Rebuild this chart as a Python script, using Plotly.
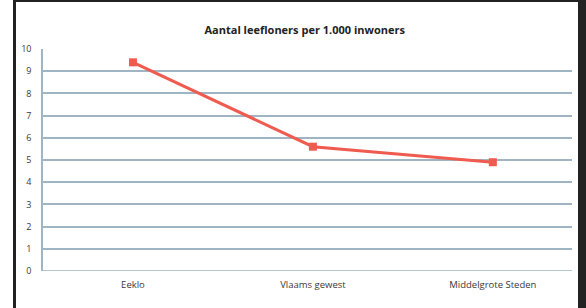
import plotly.graph_objects as go

categories = ["Eeklo", "Vlaams gewest", "Middelgrote Steden"]
values = [9.4, 5.6, 4.9]
y_ticks = list(range(0, 11))
title = "Aantal leefloners per 1.000 inwoners"

fig = go.Figure()
fig.add_trace(go.Scatter(
    x=list(range(len(categories))), y=values, mode="lines+markers",
    line=dict(color="#ef5b4f", width=3),
    marker=dict(symbol="square", size=8, color="#ef5b4f"),
    showlegend=False, hoverinfo="skip",
))

fig.update_layout(
    template="none",
    width=586, height=308,
    margin=dict(l=43, r=14, t=49, b=37, autoexpand=False),
    paper_bgcolor="white", plot_bgcolor="white",
    title=dict(text="<b>" + title + "</b>", x=0.52, xanchor="center", y=1 - 30 / 308, yanchor="middle",
               font=dict(family="Open Sans", size=11, color="#222222")),
    font=dict(family="Open Sans", size=9, color="#333333"),
    xaxis=dict(
        range=[-0.5, 2.44], tickmode="array", automargin=False,
        tickvals=list(range(len(categories))), ticktext=categories,
        showgrid=False, zeroline=False, showline=False, ticks="",
        tickfont=dict(size=9.5, color="#3a3a3a"), ticklabelstandoff=6,
    ),
    yaxis=dict(
        range=[0, 10], tickmode="array", tickvals=y_ticks, automargin=False,
        ticktext=[str(v) for v in y_ticks],
        showgrid=True, gridcolor="#9fb5c3", gridwidth=1.5,
        zeroline=False, showline=True, linecolor="#9fb5c3", linewidth=1.5,
        ticks="", ticklabelstandoff=8,
        tickfont=dict(size=9, color="#3a3a3a"),
    ),
    shapes=[
        dict(type="line", xref="paper", yref="y", x0=0, x1=1, y0=0, y1=0,
             line=dict(color="#9fb5c3", width=1.5), layer="below"),
        dict(type="line", xref="paper", yref="paper", x0=-(43 - 14.5) / 529, x1=-(43 - 14.5) / 529,
             y0=-37 / 222, y1=1 + 49 / 222, line=dict(color="#222222", width=3)),
        dict(type="line", xref="paper", yref="paper", x0=(582 - 43) / 529, x1=(582 - 43) / 529,
             y0=-37 / 222, y1=1 + 49 / 222, line=dict(color="#222222", width=8)),
        dict(type="line", xref="paper", yref="paper", x0=-(43 - 14.5) / 529, x1=(582 - 43) / 529,
             y0=1 + 48 / 222, y1=1 + 48 / 222, line=dict(color="#222222", width=2)),
    ],
)

fig.write_html(
    "out.html",
    config={"displayModeBar": False},
    post_script="document.body.style.margin='0';document.body.style.overflow='hidden';",
)
